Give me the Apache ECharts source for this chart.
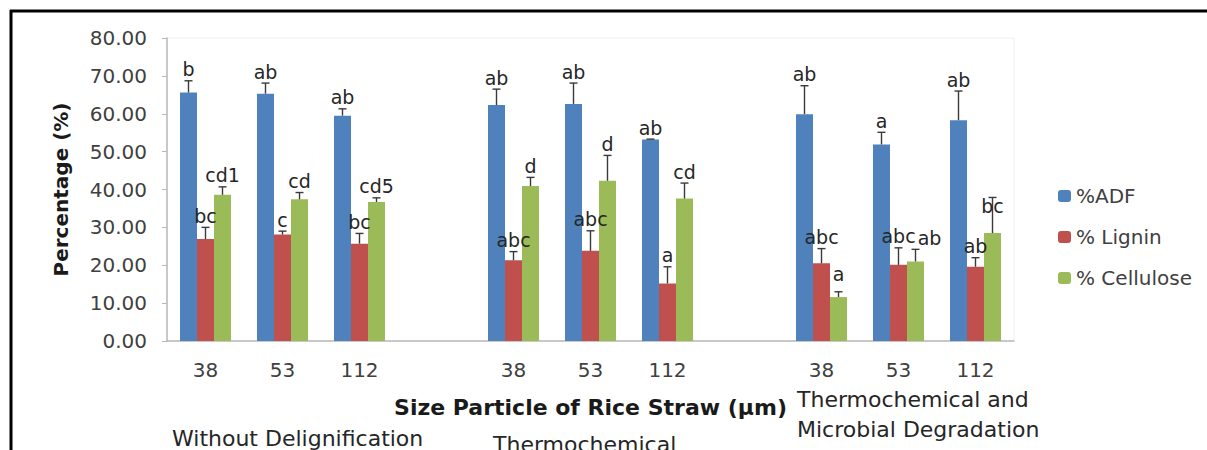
<!DOCTYPE html>
<html>
<head>
<meta charset="utf-8">
<script src="https://cdn.jsdelivr.net/npm/echarts@6/dist/echarts.min.js"></script>
<style>
  html, body { margin: 0; padding: 0; background: #ffffff; }
  #chart { width: 1207px; height: 450px; }
</style>
</head>
<body>
<div id="chart"></div>
<script>
// ---- data ----
const categories = ['38', '53', '112', '', '38', '53', '112', '', '38', '53', '112'];
const seriesNames = ['%ADF', '% Lignin', '% Cellulose'];
const adf = [65.6, 65.3, 59.5, null, 62.3, 62.6, 53.2, null, 59.9, 51.9, 58.3];
const adfErr = [3.1, 2.8, 1.8, null, 4.2, 5.5, 0.1, null, 7.5, 3.2, 7.7];
const lignin = [26.9, 28.1, 25.7, null, 21.3, 23.8, 15.2, null, 20.5, 20.1, 19.6];
const ligninErr = [3.1, 0.9, 2.7, null, 2.3, 5.3, 4.4, null, 3.9, 4.5, 2.4];
const cellulose = [38.6, 37.4, 36.7, null, 40.9, 42.3, 37.6, null, 11.6, 21.0, 28.5];
const celluloseErr = [2.1, 1.8, 1.1, null, 2.3, 6.7, 4.1, null, 1.4, 3.2, 9.4];
const adfLetters = ['b', 'ab', 'ab', '', 'ab', 'ab', 'ab', '', 'ab', 'a', 'ab'];
const ligninLetters = ['bc', 'c', 'bc', '', 'abc', 'abc', 'a', '', 'abc', 'abc', 'ab'];
const celluloseLetters = ['cd1', 'cd', 'cd5', '', 'd', 'd', 'cd', '', 'a', 'ab', 'bc'];
const yMin = 0, yMax = 80, yStep = 10;
const groupLabels = ['Without Delignification', 'Thermochemical', 'Thermochemical and', 'Microbial Degradation'];
const xTitle = 'Size Particle of Rice Straw (\u03bcm)';
const yTitle = 'Percentage (%)';

// ---- style ----
const FONT = '"DejaVu Sans", "Open Sans", sans-serif';
const colors = ['#4F81BD', '#C0504D', '#9BBB59'];
const BAR_W = 17;
// small manual nudges of letter labels (series:index -> [dx, dy] in px), as placed in the original
const labelNudge = { '2:9': [14, 0], '2:10': [0, 20], '2:8': [0, -6] };
const values = [adf, lignin, cellulose];
const errs = [adfErr, ligninErr, celluloseErr];
const letters = [adfLetters, ligninLetters, celluloseLetters];

const chart = echarts.init(document.getElementById('chart'), null, { renderer: 'svg' });

const barSeries = values.map((vals, s) => ({
  name: seriesNames[s],
  type: 'bar',
  data: vals,
  barWidth: BAR_W,
  barGap: '0%',
  itemStyle: { color: colors[s] },
  z: 2
}));

const errSeries = values.map((vals, s) => ({
  name: 'err' + s,
  type: 'custom',
  z: 5,
  silent: true,
  encode: { x: 0, y: 1 },
  data: vals.map((v, i) => v == null ? null : [i, v, errs[s][i]]).filter(d => d),
  renderItem: function (params, api) {
    const i = api.value(0), v = api.value(1), e = api.value(2);
    const base = api.coord([i, v]);
    const top = api.coord([i, v + e]);
    const x = base[0] + (s - 1) * BAR_W;
    const nd = labelNudge[s + ':' + i] || [0, 0];
    const ls = { stroke: '#3a3a3a', lineWidth: 1.4 };
    return {
      type: 'group',
      children: [
        { type: 'line', shape: { x1: x, y1: base[1], x2: x, y2: top[1] }, style: ls },
        { type: 'line', shape: { x1: x - 4, y1: top[1], x2: x + 4, y2: top[1] }, style: ls },
        { type: 'text', x: x + nd[0], y: top[1] - 2 + nd[1],
          style: { text: letters[s][i], textAlign: 'center', textVerticalAlign: 'bottom',
                   font: '19px ' + FONT, fill: '#262626' } }
      ]
    };
  }
}));

const option = {
  animation: false,
  backgroundColor: '#ffffff',
  grid: { left: 167, right: 193, top: 38, bottom: 109, show: true, borderColor: '#f0f0f0', borderWidth: 1 },
  legend: {
    data: seriesNames,
    orient: 'vertical',
    left: 1053,
    top: 181,
    itemWidth: 13,
    itemHeight: 12,
    itemGap: 21,
    itemStyle: { borderWidth: 0 },
    textStyle: { fontFamily: FONT, fontSize: 20, color: '#404040' }
  },
  xAxis: {
    type: 'category',
    data: categories,
    axisTick: { show: false },
    axisLine: { lineStyle: { color: '#b8b8b8', width: 1.5 } },
    axisLabel: { fontFamily: FONT, fontSize: 20, color: '#404040', margin: 19, interval: 0 },
    name: xTitle,
    nameLocation: 'middle',
    nameGap: 55,
    nameTextStyle: { fontFamily: FONT, fontSize: 22, fontWeight: 'bold', color: '#1a1a1a', verticalAlign: 'top' }
  },
  yAxis: {
    type: 'value',
    min: yMin,
    max: yMax,
    interval: yStep,
    splitLine: { show: false },
    axisLine: { show: true, lineStyle: { color: '#b8b8b8', width: 1.5 } },
    axisTick: { show: true, length: 5, lineStyle: { color: '#b8b8b8' } },
    axisLabel: { fontFamily: FONT, fontSize: 20, color: '#404040', margin: 20,
                 formatter: v => v.toFixed(2) },
    name: yTitle,
    nameLocation: 'middle',
    nameRotate: 90,
    nameGap: 96,
    nameTextStyle: { fontFamily: FONT, fontSize: 20, fontWeight: 'bold', color: '#1a1a1a' }
  },
  graphic: [
    { type: 'line', shape: { x1: 10, y1: 11, x2: 1207, y2: 11 }, style: { stroke: '#000', lineWidth: 3 } },
    { type: 'line', shape: { x1: 11, y1: 10, x2: 11, y2: 450 }, style: { stroke: '#000', lineWidth: 3 } },
    { type: 'text', left: 172, top: 427, style: { text: groupLabels[0], font: '22px ' + FONT, fill: '#262626' } },
    { type: 'text', left: 493, top: 433, style: { text: groupLabels[1], font: '22px ' + FONT, fill: '#262626' } },
    { type: 'text', left: 797, top: 388, style: { text: groupLabels[2], font: '22px ' + FONT, fill: '#262626' } },
    { type: 'text', left: 797, top: 418, style: { text: groupLabels[3], font: '22px ' + FONT, fill: '#262626' } }
  ],
  series: barSeries.concat(errSeries)
};
chart.setOption(option);
</script>
</body>
</html>
